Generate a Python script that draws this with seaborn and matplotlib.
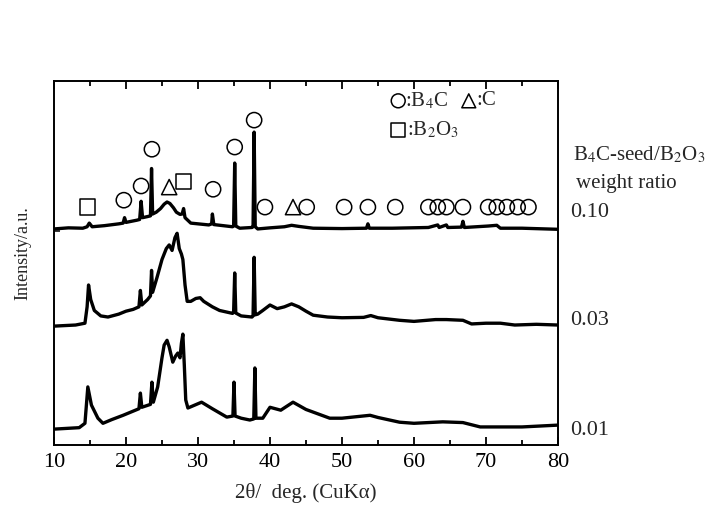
import pandas as pd
import matplotlib
matplotlib.use("Agg")
import matplotlib.pyplot as plt
import seaborn as sns

# XRD patterns (2theta in deg, intensity offset per trace)
x_010 = [10, 12, 14, 14.6, 14.9, 15.3, 17, 19, 19.6, 19.8, 20.0, 21.5, 21.9, 22.1, 22.3,
         23.0, 23.4, 23.55, 23.7, 24.2, 24.8, 25.3, 25.7, 26.1, 26.6, 27.0, 27.5, 27.8,
         28.0, 28.2, 29, 31.5, 31.9, 32.0, 32.2, 34.8, 34.95, 35.1, 35.25, 35.8, 37.5,
         37.65, 37.8, 37.95, 38.3, 40, 42, 43, 44, 46, 50, 53.4, 53.6, 53.8, 57, 62,
         63.3, 63.5, 64.5, 64.7, 66.6, 66.8, 67, 70.3, 71.5, 72, 75, 80]
y_010 = [59.4, 59.7, 59.6, 60.0, 61.0, 60.0, 60.3, 60.8, 61.0, 62.5, 61.2, 61.8, 62.0, 67.0, 62.5,
         62.8, 63.0, 76.0, 63.5, 64.0, 65.0, 66.2, 66.8, 66.4, 65.2, 64.0, 63.4, 63.5,
         65.0, 62.5, 61.0, 60.5, 60.8, 63.5, 60.6, 60.0, 60.2, 77.5, 60.2, 59.6, 59.8,
         60.0, 86.0, 60.0, 59.4, 59.7, 60.0, 60.4, 60.1, 59.6, 59.5, 59.6, 60.8, 59.6, 59.6, 59.8,
         60.5, 59.8, 60.5, 59.8, 59.9, 61.5, 59.8, 60.2, 60.4, 59.6, 59.6, 59.3]

x_003 = [10, 13, 14.3, 14.6, 14.8, 15.1, 15.6, 16.5, 17.5, 19, 20, 21, 21.8, 22.0, 22.2,
         23, 23.4, 23.55, 23.7, 24.3, 25, 25.6, 26.0, 26.4, 26.8, 27.1, 27.4, 27.7, 27.9,
         28.2, 28.5, 29.0, 29.7, 30.3, 30.8, 32, 33, 34.8, 34.95, 35.1, 35.25, 36, 37.5,
         37.65, 37.8, 37.95, 38.3, 39, 40, 41, 42, 43, 44, 45, 46, 48, 50, 53, 54, 55, 58,
         60, 63, 64.5, 66.8, 68, 70, 72, 74, 77, 80]
y_003 = [32.7, 33.0, 33.5, 38, 44.0, 40, 37, 35.5, 35.2, 36, 36.8, 37.3, 38, 42.5, 38.5,
         40, 41, 48, 42, 46, 51, 54, 55, 53.5, 57, 58.2, 54, 52.5, 51,
         44, 39.5, 39.5, 40.3, 40.5, 39.5, 38, 37, 36.2, 36.5, 47.3, 36.3, 35.5, 35.2,
         35.5, 51.6, 35.8, 36.0, 37, 38.5, 37.5, 38, 38.8, 38, 36.8, 35.7, 35.2, 35, 35.1, 35.6, 35,
         34.3, 34.0, 34.5, 34.5, 34.3, 33.3, 33.5, 33.5, 33.0, 33.2, 33.0]

x_001 = [10, 13.5, 14.3, 14.7, 15.2, 16.1, 16.8, 18, 19.6, 21.8, 22.0, 22.2, 23.4, 23.6,
         23.8, 24.4, 25.0, 25.3, 25.7, 26.0, 26.5, 26.9, 27.2, 27.5, 27.7, 27.9, 28.1,
         28.3, 28.6, 30.5, 32, 34, 34.85, 35.0, 35.15, 36, 37.2, 37.75, 37.9, 38.05, 39,
         40, 41.5, 43.2, 45, 48.3, 50, 53.9, 55, 58, 60, 64, 66.8, 69.2, 75, 80]
y_001 = [4.4, 4.8, 6.0, 16.0, 11.0, 7.4, 6.0, 7.0, 8.2, 10.0, 14.3, 10.4, 11.2, 17.3,
         11.8, 16, 24, 27.5, 28.8, 27, 22.8, 24.5, 25.3, 24, 28, 30.5, 22,
         12.4, 10.2, 11.8, 10.0, 7.7, 8.0, 17.3, 8.0, 7.4, 6.9, 7.2, 21.2, 7.4, 7.4,
         10.4, 9.6, 11.8, 9.8, 7.4, 7.4, 8.2, 7.6, 6.3, 6.0, 6.4, 6.2, 5.0, 5.0, 5.5]

# phase markers above the 0.10 pattern
b4c_x = [19.7, 22.1, 23.6, 32.1, 35.1, 37.8, 39.3, 45.1, 50.3, 53.6, 57.4, 62.0, 63.3,
         64.5, 66.8, 70.3, 71.5, 72.9, 74.4, 75.9]
b4c_y = [67.3, 71.2, 81.3, 70.3, 81.9, 89.3, 65.4, 65.4, 65.4, 65.4, 65.4, 65.4, 65.4,
         65.4, 65.4, 65.4, 65.4, 65.4, 65.4, 65.4]
c_x = [26.0, 43.2]
c_y = [70.9, 65.4]
b2o3_x = [14.7, 28.0]
b2o3_y = [65.4, 72.5]

ratio_labels = ["0.10", "0.03", "0.01"]

sns.set_theme(style="ticks")
plt.rcParams['font.family'] = ['Liberation Serif', 'DejaVu Sans']
plt.rcParams['mathtext.fontset'] = 'stix'

fig = plt.figure(figsize=(7.17, 5.17), dpi=100)
ax = fig.add_axes([0.0753, 0.139, 0.7029, 0.704])

for xs, ys in [(x_010, y_010), (x_003, y_003), (x_001, y_001)]:
    df = pd.DataFrame({'two_theta': xs, 'intensity': ys})
    sns.lineplot(data=df, x='two_theta', y='intensity', ax=ax, color='black',
                 linewidth=2.4, sort=False)

mk = dict(s=120, facecolor='none', edgecolor='black', linewidth=1.1, ax=ax, zorder=3)
sns.scatterplot(x=b4c_x, y=b4c_y, marker='o', **mk)
sns.scatterplot(x=c_x, y=c_y, marker='^', **mk)
sns.scatterplot(x=b2o3_x, y=b2o3_y, marker='s', **mk)

ax.set_xlim(10, 80)
ax.set_ylim(0, 100)
ax.set_xticks(range(10, 81, 10))
ax.set_xticks(range(15, 80, 10), minor=True)
ax.set_yticks([32.7, 58.8])
ax.set_yticklabels([])
ax.tick_params(axis='x', which='both', direction='in', top=True, labelsize=16,
               pad=6, width=1.3, colors='black')
ax.tick_params(axis='x', which='major', length=6)
ax.tick_params(axis='x', which='minor', length=3.5)
ax.tick_params(axis='y', direction='in', length=4, width=1.3)
for sp in ax.spines.values():
    sp.set_visible(True)
    sp.set_linewidth(1.4)
    sp.set_color('black')

ax.set_xlabel("2θ/  deg. (CuKα)", fontsize=15)
ax.set_ylabel("Intensity/a.u.", fontsize=13)
ax.xaxis.set_label_coords(0.5, -0.105)
ax.yaxis.set_label_coords(-0.045, 0.527)

# legend for the phase symbols
tr = ax.transAxes
leg = dict(s=100, facecolor='none', edgecolor='black', linewidth=1.1,
           transform=tr, clip_on=False)
ax.scatter([0.683], [0.946], marker='o', **leg)
ax.scatter([0.823], [0.946], marker='^', **leg)
ax.scatter([0.683], [0.865], marker='s', **leg)
ax.text(0.697, 0.946, r":B$_4$C", transform=tr, fontsize=15, va='center', ha='left')
ax.text(0.838, 0.946, ":C", transform=tr, fontsize=15, va='center', ha='left')
ax.text(0.700, 0.865, r":B$_2$O$_3$", transform=tr, fontsize=15, va='center', ha='left')

# right side labels
ax.text(1.030, 0.797, r"B$_4$C-seed/B$_2$O$_3$", transform=tr, fontsize=15,
        va='center', ha='left')
ax.text(1.036, 0.720, "weight ratio", transform=tr, fontsize=15, va='center', ha='left')
for lab, yy in zip(ratio_labels, [0.640, 0.343, 0.041]):
    ax.text(1.024, yy, lab, transform=tr, fontsize=16, va='center', ha='left')

fig.savefig("out.png", dpi=100)
